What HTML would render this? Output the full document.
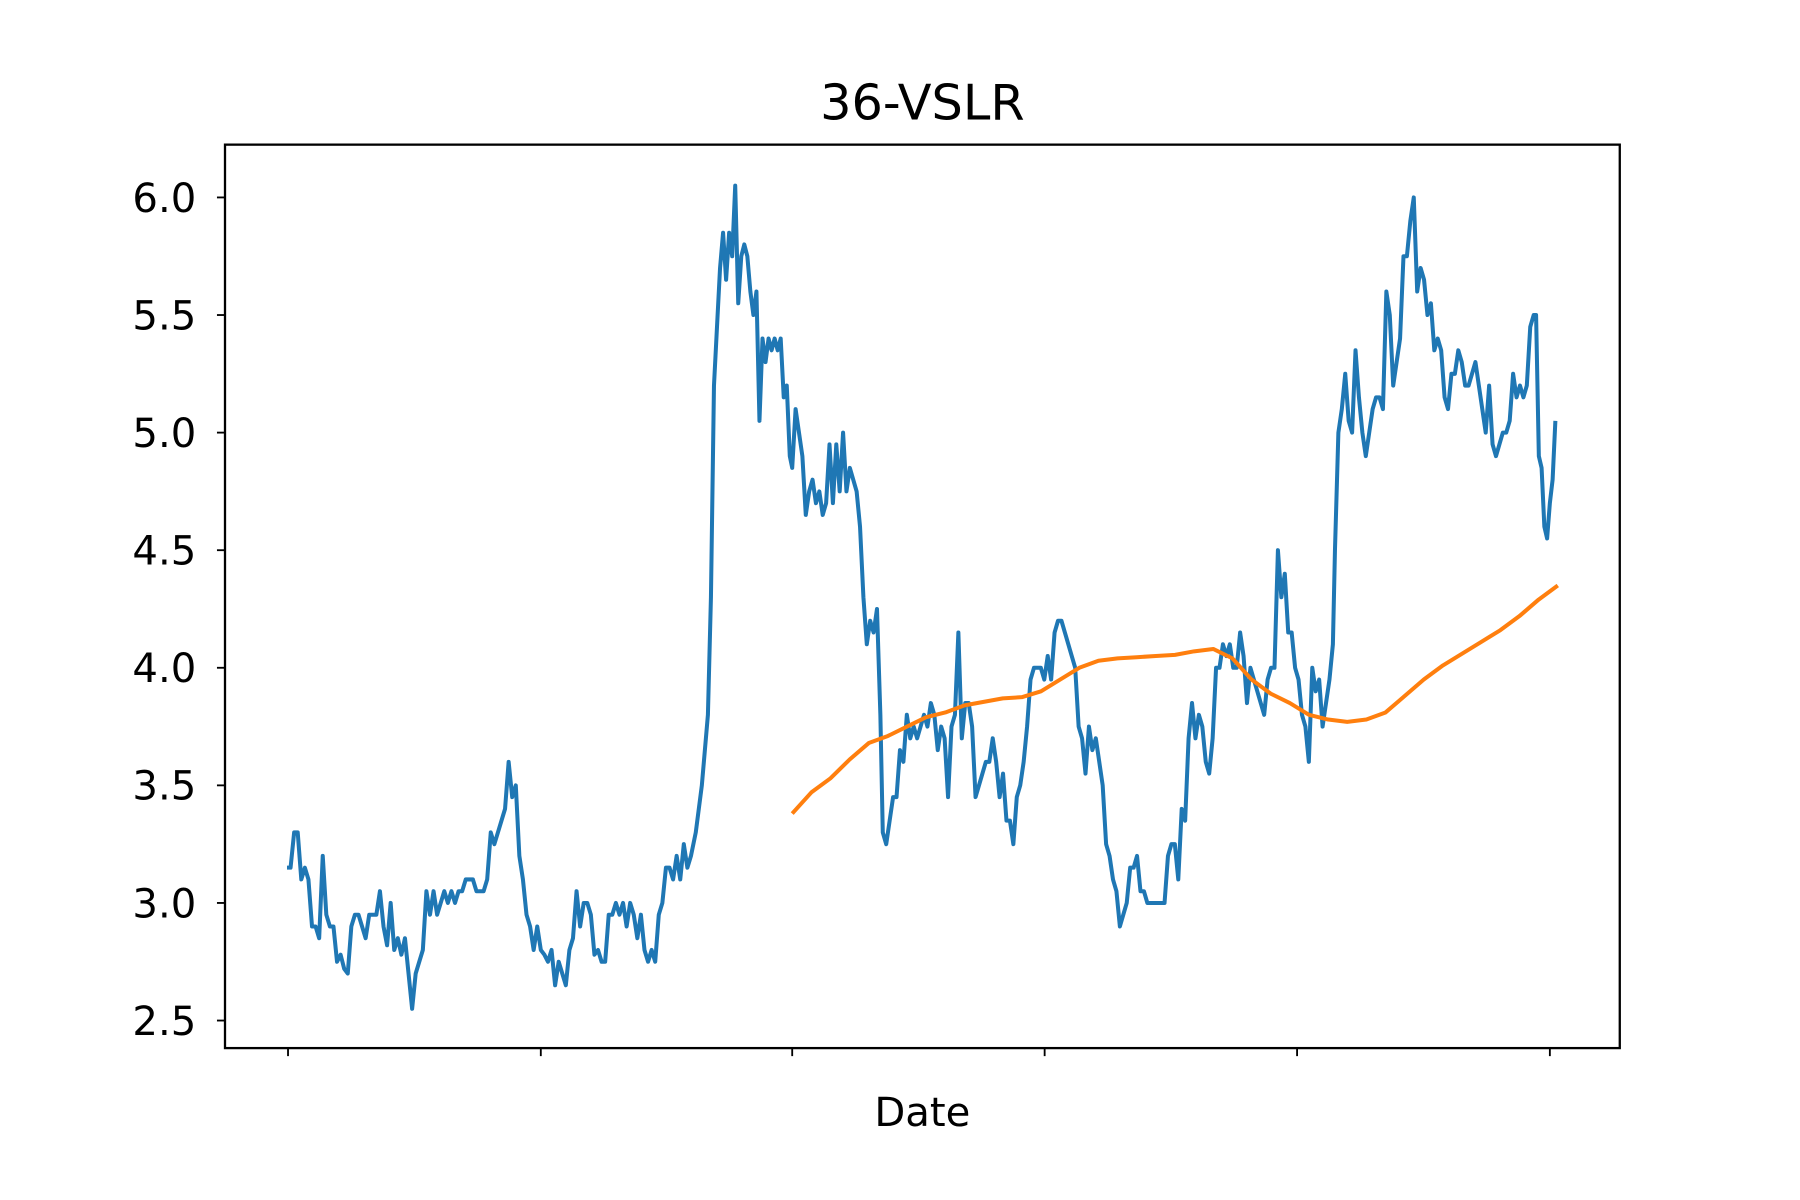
<!DOCTYPE html>
<html><head><meta charset="utf-8"><style>
html,body{margin:0;padding:0;background:#fff;}
svg{display:block;font-family:"DejaVu Sans","Liberation Sans",sans-serif;}
</style></head><body>
<svg id="chart" width="1800" height="1200" viewBox="0 0 1568 1045.33" xmlns="http://www.w3.org/2000/svg">
<rect width="1568" height="1046" fill="#fff"/>
<text x="803.5" y="104" font-size="43" text-anchor="middle">36-VSLR</text>
<text x="803.5" y="981" font-size="35" text-anchor="middle">Date</text>
<g id="yaxis"></g>
<g id="xaxis"></g>
<g id="series"></g>
<rect x="196" y="126" width="1215" height="787" fill="none" stroke="#000" stroke-width="2"/>
</svg>
<script>
// price series in segments: [startDay, endDay] and evenly spaced values
const seg1Days = [0, 117.3];
const seg1Values = [3.15,3.15,3.3,3.3,3.1,3.15,3.1,2.9,2.9,2.85,3.2,2.95,2.9,2.9,2.75,2.78,2.72,2.7,2.9,2.95,2.95,2.9,2.85,2.95,2.95,2.95,3.05,2.9,2.82,3.0,2.8,2.85,2.78,2.85,2.7,2.55,2.7,2.75,2.8,3.05,2.95,3.05,2.95,3.0,3.05,3.0,3.05,3.0,3.05,3.05,3.1,3.1,3.1,3.05,3.05,3.05,3.1,3.3,3.25,3.3,3.35,3.4,3.6,3.45,3.5,3.2,3.1,2.95,2.9,2.8,2.9,2.8,2.78,2.75,2.8,2.65,2.75,2.7,2.65,2.8,2.85,3.05,2.9,3.0,3.0,2.95,2.78,2.8,2.75,2.75,2.95,2.95,3.0,2.95,3.0,2.9,3.0,2.95,2.85,2.95,2.8,2.75,2.8,2.75,2.95,3.0,3.15,3.15,3.1,3.2,3.1,3.25,3.15,3.2];
const seg2Days = [118.7, 146];
const seg2Values = [3.3,3.4,3.5,3.65,3.8,4.3,5.2,5.45,5.7,5.85,5.65,5.85,5.75,6.05,5.55,5.75,5.8,5.75,5.6,5.5,5.6,5.05,5.4,5.3,5.4,5.35,5.4,5.35,5.4,5.15,5.2,4.9];
const seg3Days = [146.7, 172.3];
const seg3Values = [4.85,5.1,5.0,4.9,4.65,4.75,4.8,4.7,4.75,4.65,4.7,4.95,4.7,4.95,4.75,5.0,4.75,4.85,4.8,4.75,4.6,4.3,4.1,4.2,4.15,4.25,3.8];
const seg4Days = [173, 303.7];
const seg4Values = [3.3,3.25,3.35,3.45,3.45,3.65,3.6,3.8,3.7,3.75,3.7,3.75,3.8,3.75,3.85,3.8,3.65,3.75,3.7,3.45,3.75,3.8,4.15,3.7,3.85,3.85,3.75,3.45,3.5,3.55,3.6,3.6,3.7,3.6,3.45,3.55,3.35,3.35,3.25,3.45,3.5,3.6,3.75,3.95,4.0,4.0,4.0,3.95,4.05,3.95,4.15,4.2,4.2,4.15,4.1,4.05,4.0,3.75,3.7,3.55,3.75,3.65,3.7,3.6,3.5,3.25,3.2,3.1,3.05,2.9,2.95,3.0,3.15,3.15,3.2,3.05,3.05,3.0,3.0,3.0,3.0,3.0,3.0,3.2,3.25,3.25,3.1,3.4,3.35,3.7,3.85,3.7,3.8,3.75,3.6,3.55,3.7,4.0,4.0,4.1,4.05,4.1,4.0,4.0,4.15,4.05,3.85,4.0,3.95,3.9,3.85,3.8,3.95,4.0,4.0,4.5,4.3,4.4,4.15,4.15,4.0,3.95,3.8,3.75,3.6,4.0,3.9,3.95,3.75,3.85,3.95,4.1];
const seg5Days = [304.3, 362];
const seg5Values = [4.5,5.0,5.1,5.25,5.05,5.0,5.35,5.15,5.0,4.9,5.0,5.1,5.15,5.15,5.1,5.6,5.5,5.2,5.3,5.4,5.75,5.75,5.9,6.0,5.6,5.7,5.65,5.5,5.55,5.35,5.4,5.35,5.15,5.1,5.25,5.25,5.35,5.3,5.2,5.2,5.25,5.3,5.2,5.1,5.0,5.2,4.95,4.9,4.95,5.0,5.0,5.05,5.25,5.15,5.2,5.15,5.2,5.45,5.5];
const seg6Days = [362.7, 368.3];
const seg6Values = [5.5,4.9,4.85,4.6,4.55,4.7,4.8,5.05];
const maDays = [146.7, 369];
const maValues = [3.38,3.47,3.53,3.61,3.68,3.71,3.75,3.79,3.81,3.84,3.855,3.87,3.875,3.9,3.95,4.0,4.03,4.04,4.045,4.05,4.055,4.07,4.08,4.04,3.95,3.89,3.85,3.8,3.78,3.77,3.78,3.81,3.88,3.95,4.01,4.06,4.11,4.16,4.22,4.29,4.35];
const yTickValues = [2.5,3.0,3.5,4.0,4.5,5.0,5.5,6.0];
const yTickLabels = ["2.5","3.0","3.5","4.0","4.5","5.0","5.5","6.0"];
const xTickDays = [0.3,73.7,146.7,220,293.3,366.7];

const NS = "http://www.w3.org/2000/svg";
function yScale(v){ return 889 - (v - 2.5) * 204.86; }
function xScale(d){ return 250 + d * 3; }
function mk(tag, attrs, parent){ const e=document.createElementNS(NS,tag); for(const k in attrs) e.setAttribute(k,attrs[k]); parent.appendChild(e); return e; }

const yaxis=document.getElementById('yaxis');
yTickValues.forEach((v,i)=>{
  const y=yScale(v);
  const t=mk('line',{x1:189,x2:196,y1:y,y2:y,stroke:'#000','stroke-width':1.6},yaxis);
  
  
  const l=mk('text',{x:171,y:y+12.5,'font-size':35,'text-anchor':'end'},yaxis);
  l.textContent=yTickLabels[i];
  
  
});
const xaxis=document.getElementById('xaxis');
xTickDays.forEach(d=>{
  const x=xScale(d);
  const t=mk('line',{x1:x,x2:x,y1:913,y2:920,stroke:'#000','stroke-width':1.6},xaxis);
  
  
});
const g=document.getElementById('series');
function pts(vals,range){
  const n=vals.length;
  return vals.map((v,i)=>xScale(range[0]+(range[1]-range[0])*(n>1?i/(n-1):0)).toFixed(2)+','+yScale(v).toFixed(2));
}
const pricePts=[].concat(pts(seg1Values,seg1Days),pts(seg2Values,seg2Days),pts(seg3Values,seg3Days),pts(seg4Values,seg4Days),pts(seg5Values,seg5Days),pts(seg6Values,seg6Days));
const p1=mk('path',{d:'M'+pricePts.join(' L'),fill:'none',stroke:'#1f77b4','stroke-width':3.5,'stroke-linejoin':'round'},g);


const p2=mk('path',{d:'M'+pts(maValues,maDays).join(' L'),fill:'none',stroke:'#ff7f0e','stroke-width':3.5,'stroke-linejoin':'round'},g);


</script>
</body></html>
